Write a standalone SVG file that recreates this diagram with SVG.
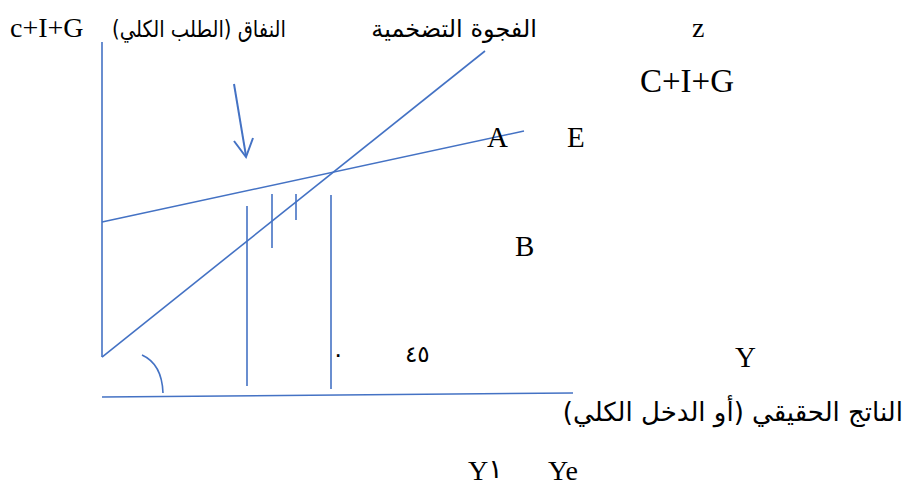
<svg xmlns="http://www.w3.org/2000/svg" width="907" height="485" viewBox="0 0 907 485">
<style>
.ln{stroke:#4472C4;stroke-width:1.6;fill:none;stroke-linecap:butt}
.lat{font-family:"Liberation Serif","DejaVu Sans",serif;font-size:28px;fill:#000}
.ar{font-family:"DejaVu Sans",sans-serif;font-size:23px;fill:#000}
.dig{font-family:"DejaVu Sans",sans-serif;font-size:23px;fill:#000}
</style>
<rect width="907" height="485" fill="#fff"/>
<g id="connectors">
<line class="ln" x1="102" y1="42" x2="102" y2="357"/>
<line class="ln" x1="102" y1="397" x2="573" y2="393"/>
<line class="ln" x1="102" y1="357" x2="485" y2="51"/>
<line class="ln" x1="102" y1="222" x2="524" y2="131"/>
<line class="ln" x1="247" y1="206" x2="247" y2="386"/>
<line class="ln" x1="331" y1="195" x2="331" y2="389"/>
<line class="ln" x1="272" y1="194" x2="272" y2="248"/>
<line class="ln" x1="296" y1="194" x2="296" y2="220"/>
<path class="ln" d="M142,355 Q162,364 163,393"/>
<line class="ln" x1="234" y1="84" x2="246" y2="156" style="stroke-width:2"/>
<polyline class="ln" points="234,141 246,157 253,138" style="stroke-width:2"/>
</g>
<g id="label-cig-axis"><text class="lat" x="10" y="37">c+I+G</text></g>
<g id="label-spending"><text class="ar" x="286" y="37" direction="rtl" text-anchor="start" style="font-size:23px" textLength="174" lengthAdjust="spacingAndGlyphs">النفاق (الطلب الكلي)</text></g>
<g id="label-gap"><text class="ar" x="537" y="37" direction="rtl" text-anchor="start" style="font-size:24px">الفجوة التضخمية</text></g>
<g id="label-z"><text class="lat" x="692" y="37">z</text></g>
<g id="label-CIG"><text class="lat" x="640" y="92" style="font-size:33px">C+I+G</text></g>
<g id="label-A"><text class="lat" x="487" y="147" style="font-size:29px">A</text></g>
<g id="label-E"><text class="lat" x="567" y="147" style="font-size:29px">E</text></g>
<g id="label-B"><text class="lat" x="515" y="256" style="font-size:29px">B</text></g>
<g id="label-zero"><text class="dig" x="332" y="362">٠</text></g>
<g id="label-45"><text class="dig" x="405" y="362">٤٥</text></g>
<g id="label-Y"><text class="lat" x="735" y="367" style="font-size:29px">Y</text></g>
<g id="label-output"><text class="ar" x="903" y="421" direction="rtl" text-anchor="start" style="font-size:26px">الناتج الحقيقي (أو الدخل الكلي)</text></g>
<g id="label-Y1"><text class="lat" x="468" y="480">Y<tspan style="font-family:'DejaVu Sans',sans-serif;font-size:27px" dy="-2">١</tspan></text></g>
<g id="label-Ye"><text class="lat" x="548" y="480">Ye</text></g>
</svg>
